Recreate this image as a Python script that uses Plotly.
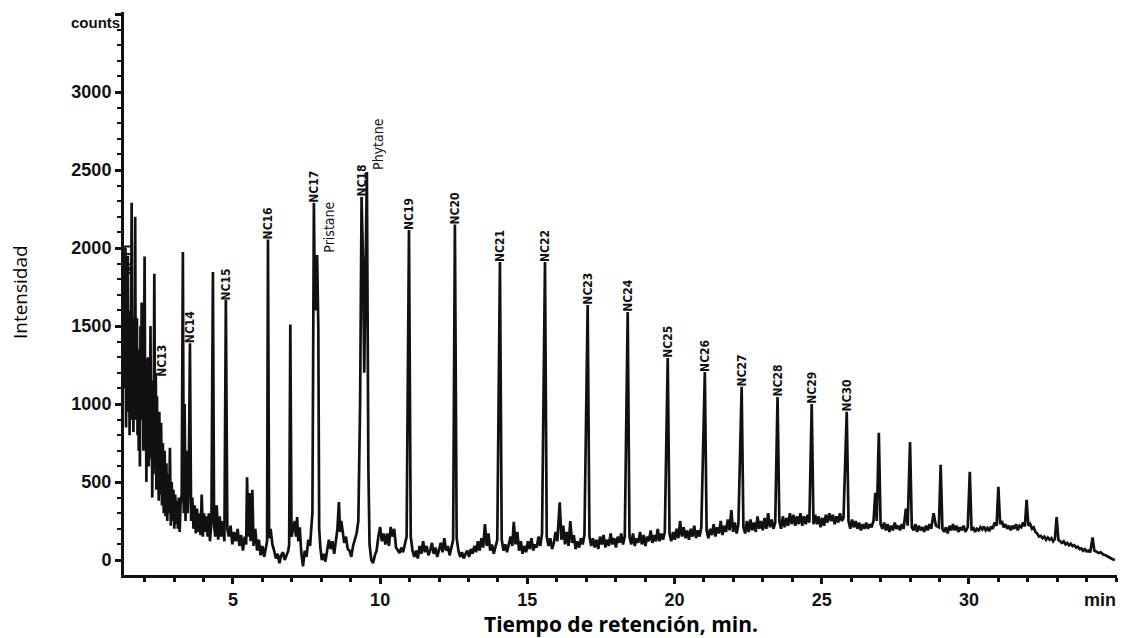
import plotly.graph_objects as go

# ---------------- data ----------------
# segment 1: 1.3 - 5 min (dense early region)
rt_a = [1.30, 1.31, 1.33, 1.35, 1.37, 1.39, 1.41, 1.43, 1.45, 1.47, 1.49, 1.51, 1.53,
        1.56, 1.58, 1.60, 1.62, 1.64, 1.66, 1.68, 1.70, 1.72, 1.74, 1.76, 1.78, 1.80, 1.82, 1.84, 1.86,
        1.88, 1.90, 1.92, 1.94, 1.96, 1.98, 2.00, 2.02, 2.04, 2.06, 2.08, 2.10, 2.12, 2.14, 2.16, 2.18,
        2.20, 2.22, 2.24, 2.26, 2.28, 2.30, 2.33, 2.36, 2.38, 2.40, 2.42, 2.44, 2.46, 2.48, 2.50, 2.53,
        2.56, 2.59, 2.62, 2.65, 2.68, 2.71, 2.74, 2.77, 2.80, 2.83, 2.86, 2.89, 2.92, 2.95, 2.98, 3.01,
        3.04, 3.07, 3.10, 3.13, 3.16, 3.19, 3.22, 3.26, 3.30, 3.33, 3.36, 3.39, 3.42, 3.46, 3.50, 3.54,
        3.58, 3.62, 3.66, 3.70, 3.74, 3.78, 3.82, 3.86, 3.90, 3.94, 3.98, 4.02, 4.06, 4.10, 4.14, 4.18,
        4.22, 4.27, 4.32, 4.36, 4.40, 4.45, 4.50, 4.55, 4.60, 4.65, 4.71, 4.76, 4.81, 4.86, 4.92, 4.98]
counts_a = [1900, 1700, 1100, 2000, 850, 1500, 950, 1950, 1050, 1600, 800, 1400, 900,
            2290, 1000, 1550, 820, 1450, 1000, 2200, 900, 1300, 1550, 800, 1200, 700, 1350, 600, 1500,
            900, 1650, 1100, 1570, 700, 1200, 1945, 900, 1250, 500, 1100, 700, 1300, 600, 1200, 800,
            1500, 650, 1150, 400, 1000, 550, 1835, 600, 1200, 450, 1050, 500, 900, 380, 950, 420,
            880, 350, 750, 300, 700, 280, 620, 250, 550, 300, 720, 220, 500, 250, 450, 200,
            420, 230, 380, 200, 400, 180, 350, 420, 1975, 300, 1000, 250, 700, 300, 500, 1390,
            250, 400, 200, 350, 170, 330, 180, 300, 160, 420, 150, 300, 180, 280, 150, 300,
            120, 250, 1846, 220, 150, 350, 130, 280, 150, 250, 120, 1667, 200, 150, 220, 100]

# segment 2: 5 - 10 min
rt_b = [5.04, 5.10, 5.16, 5.22, 5.28, 5.34, 5.40, 5.45, 5.48, 5.52, 5.56, 5.60, 5.66, 5.70, 5.76, 5.82,
        5.88, 5.94, 6.00, 6.06, 6.12, 6.16, 6.19, 6.23, 6.28, 6.34, 6.40, 6.46, 6.52, 6.58, 6.64, 6.70,
        6.76, 6.82, 6.88, 6.91, 6.95, 6.99, 7.04, 7.10, 7.14, 7.18, 7.22, 7.27, 7.32, 7.38, 7.44, 7.50,
        7.56, 7.62, 7.66, 7.70, 7.75, 7.78, 7.82, 7.86, 7.90, 7.93, 7.97, 8.02, 8.08, 8.14, 8.20, 8.26,
        8.32, 8.38, 8.44, 8.50, 8.55, 8.60, 8.64, 8.68, 8.72, 8.78, 8.84, 8.90, 8.96, 9.02, 9.08, 9.14,
        9.20, 9.26, 9.32, 9.37, 9.42, 9.46, 9.50, 9.55, 9.60, 9.64, 9.70, 9.76, 9.82, 9.88, 9.94]
counts_b = [180, 120, 200, 90, 160, 60, 150, 100, 530, 150, 430, 120, 450, 90, 200, 60,
            130, 30, 90, 20, 80, 120, 2055, 140, 200, 100, 60, 10, 40, -20, 30, 50,
            0, 30, 60, 100, 1510, 150, 200, 250, 150, 275, 120, 210, 50, -40, 60, 20,
            130, 90, 200, 300, 2290, 1700, 1600, 1955, 1500, 200, 80, 0, 40, -10, 60, 130,
            70, 120, 40, 150, 200, 372, 180, 250, 190, 110, 150, 70, 60, 20, 90, 130,
            170, 250, 1000, 2327, 1900, 1200, 1800, 2487, 600, 100, 0, -20, 30, 60, 150]

# segment 3: 10 - 20 min
rt_c = [10.00, 10.06, 10.12, 10.18, 10.24, 10.30, 10.36, 10.42, 10.48, 10.54, 10.60, 10.66, 10.72, 10.78,
        10.84, 10.90, 10.98, 11.04, 11.10, 11.16, 11.22, 11.28, 11.34, 11.40, 11.46, 11.52, 11.58, 11.64,
        11.70, 11.76, 11.82, 11.88, 11.94, 12.00, 12.06, 12.12, 12.18, 12.24, 12.30, 12.36, 12.42, 12.48,
        12.54, 12.60, 12.66, 12.72, 12.78, 12.84, 12.90, 12.96, 13.02, 13.08, 13.14, 13.20, 13.26, 13.32,
        13.38, 13.44, 13.50, 13.56, 13.62, 13.68, 13.74, 13.80, 13.86, 13.92, 13.98, 14.07, 14.13, 14.19,
        14.25, 14.31, 14.37, 14.43, 14.49, 14.54, 14.60, 14.66, 14.72, 14.78, 14.84, 14.90, 14.96, 15.02,
        15.08, 15.14, 15.20, 15.26, 15.32, 15.38, 15.44, 15.50, 15.60, 15.66, 15.72, 15.78, 15.84, 15.90,
        15.96, 16.02, 16.10, 16.16, 16.22, 16.28, 16.34, 16.40, 16.46, 16.52, 16.58, 16.64, 16.70, 16.76,
        16.82, 16.88, 16.94, 17.05, 17.11, 17.17, 17.23, 17.29, 17.35, 17.41, 17.47, 17.53, 17.59, 17.65,
        17.71, 17.77, 17.83, 17.89, 17.95, 18.01, 18.07, 18.13, 18.19, 18.25, 18.31, 18.41, 18.47, 18.53,
        18.59, 18.65, 18.71, 18.77, 18.83, 18.89, 18.95, 19.01, 19.07, 19.13, 19.19, 19.25, 19.31, 19.37,
        19.43, 19.49, 19.55, 19.61, 19.67, 19.77, 19.83, 19.89, 19.95]
counts_c = [212, 120, 170, 100, 170, 90, 212, 150, 200, 80, 60, 45, 80, 50,
            100, 150, 2115, 150, 60, 20, 60, 10, 90, 40, 120, 50, 90, 30,
            60, 110, 40, 80, 20, 60, 110, 50, 140, 60, 90, 30, 80, 130,
            2150, 140, 60, 20, 50, 10, 40, 60, 20, 70, 40, 90, 50, 120,
            60, 140, 80, 230, 90, 170, 60, 100, 40, 90, 130, 1910, 130, 60,
            100, 50, 110, 150, 90, 245, 100, 180, 60, 120, 40, 90, 50, 120,
            70, 140, 60, 100, 80, 150, 90, 170, 1910, 150, 90, 140, 70, 110,
            180, 120, 370, 130, 220, 100, 180, 90, 250, 110, 160, 70, 120, 80,
            140, 100, 160, 1635, 150, 90, 140, 80, 130, 70, 150, 100, 160, 80,
            130, 90, 170, 100, 140, 80, 150, 110, 170, 100, 150, 1590, 150, 100,
            170, 90, 140, 110, 180, 100, 160, 90, 150, 120, 190, 110, 160, 120,
            200, 120, 170, 130, 180, 1295, 170, 120, 180]

# segment 4: 20 - 35 min
rt_d = [20.01, 20.07, 20.13, 20.19, 20.25, 20.31, 20.37, 20.43, 20.49, 20.55, 20.61, 20.67, 20.73, 20.79,
        20.85, 20.91, 21.03, 21.09, 21.15, 21.21, 21.27, 21.33, 21.39, 21.45, 21.51, 21.57, 21.63, 21.69,
        21.75, 21.81, 21.87, 21.93, 21.99, 22.05, 22.11, 22.17, 22.28, 22.34, 22.40, 22.46, 22.52, 22.58,
        22.64, 22.70, 22.76, 22.82, 22.88, 22.94, 23.00, 23.06, 23.12, 23.18, 23.24, 23.30, 23.36, 23.42,
        23.50, 23.56, 23.62, 23.68, 23.74, 23.80, 23.86, 23.92, 23.98, 24.04, 24.10, 24.16, 24.22, 24.28,
        24.34, 24.40, 24.46, 24.52, 24.58, 24.66, 24.72, 24.78, 24.84, 24.90, 24.96, 25.02, 25.08, 25.14,
        25.20, 25.26, 25.32, 25.38, 25.44, 25.50, 25.56, 25.62, 25.68, 25.74, 25.85, 25.91, 25.97, 26.03,
        26.09, 26.15, 26.21, 26.27, 26.33, 26.39, 26.45, 26.51, 26.57, 26.63, 26.69, 26.76, 26.82, 26.87,
        26.94, 27.00, 27.06, 27.12, 27.18, 27.24, 27.30, 27.36, 27.42, 27.48, 27.54, 27.60, 27.66, 27.72,
        27.78, 27.86, 27.92, 28.00, 28.06, 28.12, 28.18, 28.24, 28.30, 28.36, 28.42, 28.48, 28.54, 28.60,
        28.66, 28.72, 28.80, 28.88, 28.98, 29.04, 29.10, 29.16, 29.22, 29.28, 29.34, 29.40, 29.46, 29.52,
        29.58, 29.64, 29.70, 29.76, 29.82, 29.88, 29.96, 30.03, 30.09, 30.15, 30.21, 30.27, 30.33, 30.39,
        30.45, 30.51, 30.57, 30.63, 30.69, 30.75, 30.81, 30.87, 30.94, 31.00, 31.06, 31.12, 31.18, 31.24,
        31.30, 31.36, 31.42, 31.48, 31.54, 31.60, 31.66, 31.72, 31.78, 31.84, 31.90, 31.96, 32.02, 32.08,
        32.14, 32.20, 32.26, 32.32, 32.38, 32.44, 32.50, 32.56, 32.62, 32.68, 32.74, 32.80, 32.86, 32.92,
        32.98, 33.04, 33.10, 33.16, 33.22, 33.28, 33.34, 33.40, 33.46, 33.52, 33.58, 33.64, 33.70, 33.76,
        33.82, 33.88, 33.94, 34.00, 34.06, 34.12, 34.20, 34.26, 34.32, 34.40, 34.48, 34.56, 34.64, 34.72,
        34.80, 34.88, 34.96]
counts_d = [130, 200, 140, 250, 150, 210, 140, 190, 130, 200, 150, 220, 140, 190,
            150, 210, 1205, 190, 140, 200, 160, 230, 150, 210, 170, 250, 160, 220,
            180, 260, 190, 320, 180, 240, 170, 230, 1110, 210, 170, 250, 180, 260,
            190, 240, 180, 280, 200, 250, 190, 270, 200, 300, 210, 260, 200, 240,
            1045, 250, 200, 280, 210, 270, 220, 300, 230, 290, 220, 280, 230, 300,
            220, 280, 230, 290, 240, 1000, 230, 290, 230, 280, 210, 270, 220, 290,
            240, 300, 250, 290, 230, 280, 240, 300, 250, 270, 950, 250, 200, 260,
            210, 250, 200, 240, 190, 230, 200, 240, 200, 230, 210, 250, 430, 250,
            815, 230, 200, 240, 190, 230, 180, 220, 190, 240, 200, 220, 190, 230,
            200, 330, 220, 757, 210, 190, 230, 180, 220, 190, 210, 180, 220, 190,
            230, 200, 300, 220, 210, 610, 200, 180, 210, 170, 220, 190, 230, 190,
            220, 180, 210, 190, 220, 180, 210, 565, 190, 210, 180, 200, 190, 210,
            195, 215, 190, 205, 185, 215, 200, 240, 220, 470, 230, 250, 210, 230,
            200, 220, 190, 220, 200, 230, 190, 220, 210, 240, 215, 385, 220, 230,
            200, 210, 180, 170, 150, 155, 140, 150, 130, 145, 130, 140, 120, 135,
            275, 130, 120, 110, 120, 100, 110, 95, 105, 90, 95, 80, 85, 70,
            75, 60, 70, 55, 60, 50, 145, 60, 55, 45, 50, 35, 30, 20,
            15, 5, 0]

# peak labels
label_text = ["NC11", "NC12", "NC13", "NC14", "NC15", "NC16", "NC17", "NC18", "NC19", "NC20",
              "NC21", "NC22", "NC23", "NC24", "NC25", "NC26", "NC27", "NC28", "NC29", "NC30"]
label_rt = [1.45, 1.94, 2.59, 3.54, 4.78, 6.19, 7.75, 9.37, 10.98, 12.54,
            14.07, 15.60, 17.05, 18.41, 19.77, 21.03, 22.28, 23.50, 24.66, 25.85]
label_counts = [1830, 1090, 1175, 1390, 1667, 2055, 2290, 2327, 2115, 2150,
                1910, 1910, 1635, 1590, 1295, 1205, 1110, 1045, 1000, 950]

named_text = ["Pristane", "Phytane"]
named_rt = [7.86, 9.55]
named_counts = [1955, 2487]

y_tickvals = [0, 500, 1000, 1500, 2000, 2500, 3000, 3500]
y_ticktext = ["0", "500", "1000", "1500", "2000", "2500", "3000", " "]
x_tickvals = [5, 10, 15, 20, 25, 30]
x_ticktext = ["5", "10", "15", "20", "25", "30"]

# ---------------- figure ----------------
rt = rt_a + rt_b + rt_c + rt_d
counts = counts_a + counts_b + counts_c + counts_d

fig = go.Figure()
fig.add_trace(go.Scatter(x=rt, y=counts, mode="lines",
                         line=dict(color="#111111", width=2.7), hoverinfo="skip"))

label_font = dict(family="DejaVu Sans Condensed, Liberation Sans Narrow, Arial Narrow, sans-serif",
                  size=12, color="#111111", weight="bold")
for t, x, y in zip(label_text, label_rt, label_counts):
    fig.add_annotation(x=x, y=y, text=t, textangle=-90, showarrow=False,
                       xanchor="center", yanchor="bottom", yshift=-2, font=label_font)
for t, x, y in zip(named_text, named_rt, named_counts):
    fig.add_annotation(x=x, y=y, text=t, textangle=-90, showarrow=False,
                       xanchor="left", yanchor="bottom", xshift=1,
                       font=dict(family="DejaVu Sans Condensed, Liberation Sans Narrow, sans-serif",
                                 size=14, color="#111111"))

tick_font = dict(family="Liberation Sans, Arial, sans-serif", size=18, color="#111111", weight="bold")

fig.update_xaxes(range=[1.30, 35.03], tickvals=x_tickvals, ticktext=x_ticktext,
                 showline=True, linecolor="#111111", linewidth=3, ticks="outside",
                 ticklen=6, tickwidth=3, tickcolor="#111111", tickfont=tick_font,
                 minor=dict(dtick=1, tick0=0, ticks="outside", ticklen=4, tickwidth=3,
                            tickcolor="#111111"),
                 showgrid=False, zeroline=False, mirror=False)
fig.update_yaxes(range=[-96, 3513], tickvals=y_tickvals, ticktext=y_ticktext,
                 showline=True, linecolor="#111111", linewidth=3, ticks="outside",
                 ticklen=6, tickwidth=3, tickcolor="#111111", tickfont=tick_font,
                 minor=dict(dtick=100, tick0=0, ticks="outside", ticklen=4, tickwidth=2,
                            tickcolor="#111111"),
                 showgrid=False, zeroline=False)

fig.add_annotation(x=0, y=3513, xref="paper", yref="y", xshift=-2,
                   text="counts", showarrow=False, xanchor="right", yanchor="top",
                   font=dict(family="Liberation Sans, Arial, sans-serif", size=15,
                             color="#111111", weight="bold"))
fig.add_annotation(x=35.0, y=0, xref="x", yref="paper", yshift=-13, xshift=-16,
                   text="min", showarrow=False, xanchor="center", yanchor="top", font=tick_font)
fig.add_annotation(x=0.5, y=-0.087, xref="paper", yref="paper",
                   text="Tiempo de retención, min.", showarrow=False,
                   xanchor="center", yanchor="middle",
                   font=dict(family="Open Sans, sans-serif", size=21, color="#000000", weight="bold"))
fig.add_annotation(x=-0.1045, y=0.503, xref="paper", yref="paper",
                   text="Intensidad", showarrow=False, textangle=-90,
                   xanchor="center", yanchor="middle",
                   font=dict(family="Open Sans, sans-serif", size=19, color="#000000"))

# the page adds an 8 px body margin, so the figure is 8 px smaller and shifted
fig.update_layout(width=1131, height=630, margin=dict(l=116, r=22, t=4, b=63),
                  paper_bgcolor="white", plot_bgcolor="white", showlegend=False)

fig.write_html("out.html")
